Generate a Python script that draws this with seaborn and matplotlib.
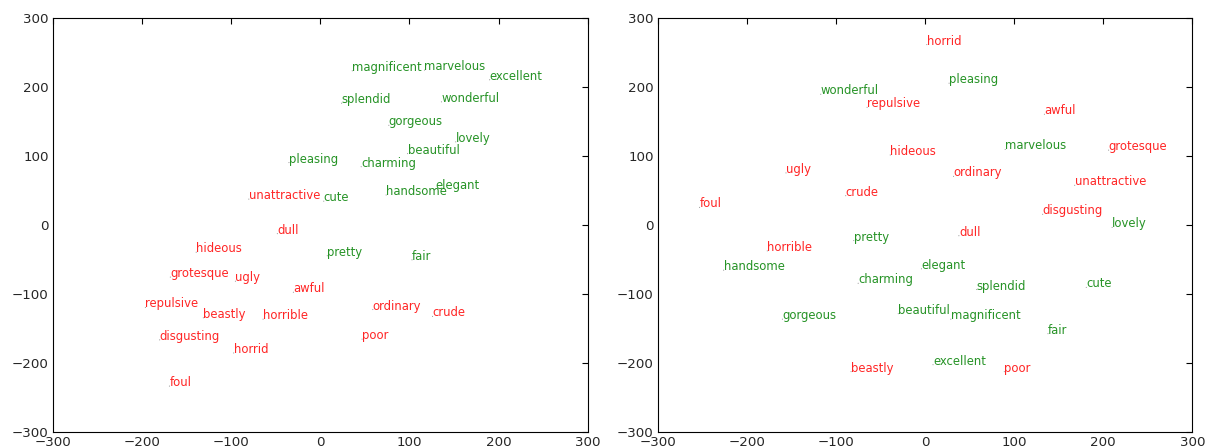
# t-SNE style word map: left = first embedding, right = second embedding
import pandas as pd
import matplotlib
matplotlib.use("Agg")
import matplotlib.pyplot as plt
import seaborn as sns

# ----------------------------
# Words
# ----------------------------
words_pos = ["magnificent", "marvelous", "excellent", "splendid", "wonderful",
             "gorgeous", "lovely", "beautiful", "pleasing", "charming",
             "elegant", "handsome", "cute", "pretty", "fair"]
words_neg = ["unattractive", "dull", "hideous", "grotesque", "ugly",
             "awful", "repulsive", "ordinary", "beastly", "horrible",
             "crude", "disgusting", "poor", "horrid", "foul"]

# ----------------------------
# Left panel coordinates
# ----------------------------
left_pos_x = [36, 117, 190, 24, 136, 77, 152, 98, -35, 46, 129, 74, 4, 8, 103]
left_pos_y = [224, 225, 211, 177, 179, 145, 121, 104, 91, 85, 52, 44, 35, -44, -50]
left_neg_x = [-80, -48, -139, -168, -95, -30, -196, 59, -131, -64, 126, -180, 47, -97, -169]
left_neg_y = [38, -12, -39, -75, -81, -97, -119, -122, -134, -136, -132, -166, -165, -185, -233]

# ----------------------------
# Right panel coordinates
# ----------------------------
right_pos_x = [29, 90, 9, 58, -117, -160, 210, -30, 27, -75, -4, -226, 181, -80, 138]
right_pos_y = [-136, 110, -202, -93, 190, -136, -3, -128, 206, -84, -63, -65, -90, -22, -157]
right_neg_x = [168, 38, -39, 206, -156, 134, -65, 32, -83, -177, -89, 132, 89, 2, -253]
right_neg_y = [58, -15, 102, 109, 76, 161, 171, 71, -212, -37, 43, 16, -212, 262, 26]

sns.set_style("white")
plt.rcParams["font.family"] = ["DejaVu Sans"]
plt.rcParams["xtick.direction"] = "in"
plt.rcParams["ytick.direction"] = "in"


def armar_df(px, py, nx, ny):
    df = pd.DataFrame({
        "x": px + nx,
        "y": py + ny,
        "word": words_pos + words_neg,
        "clase": ["pos"] * len(words_pos) + ["neg"] * len(words_neg),
    })
    return df


paneles = [
    armar_df(left_pos_x, left_pos_y, left_neg_x, left_neg_y),
    armar_df(right_pos_x, right_pos_y, right_neg_x, right_neg_y),
]
colores = {"pos": (0, 0.5, 0), "neg": (1, 0, 0)}

fig = plt.figure(figsize=(1205 / 80, 448 / 80), dpi=80)
posiciones = [[0.0437, 0.035, 0.444, 0.924], [0.5458, 0.035, 0.4437, 0.924]]

for df, rect in zip(paneles, posiciones):
    ax = fig.add_axes(rect)
    sns.scatterplot(data=df, x="x", y="y", ax=ax, s=1, color="#999999",
                    edgecolor="none", legend=False)
    for _, row in df.iterrows():
        ax.annotate(row["word"], xy=(row["x"], row["y"]), fontsize=10.5,
                    color=colores[row["clase"]], alpha=0.85)
    ax.set_xlim(-300, 300)
    ax.set_ylim(-300, 300)
    ax.set_xticks([-300, -200, -100, 0, 100, 200, 300])
    ax.set_yticks([-300, -200, -100, 0, 100, 200, 300])
    ax.set_xlabel("")
    ax.set_ylabel("")
    ax.tick_params(direction="in", length=5, width=1, labelsize=12,
                   top=True, right=True, color="black")
    for sp in ax.spines.values():
        sp.set_color("black")
        sp.set_linewidth(1)

plt.savefig("out.png", dpi=80)
plt.close()
